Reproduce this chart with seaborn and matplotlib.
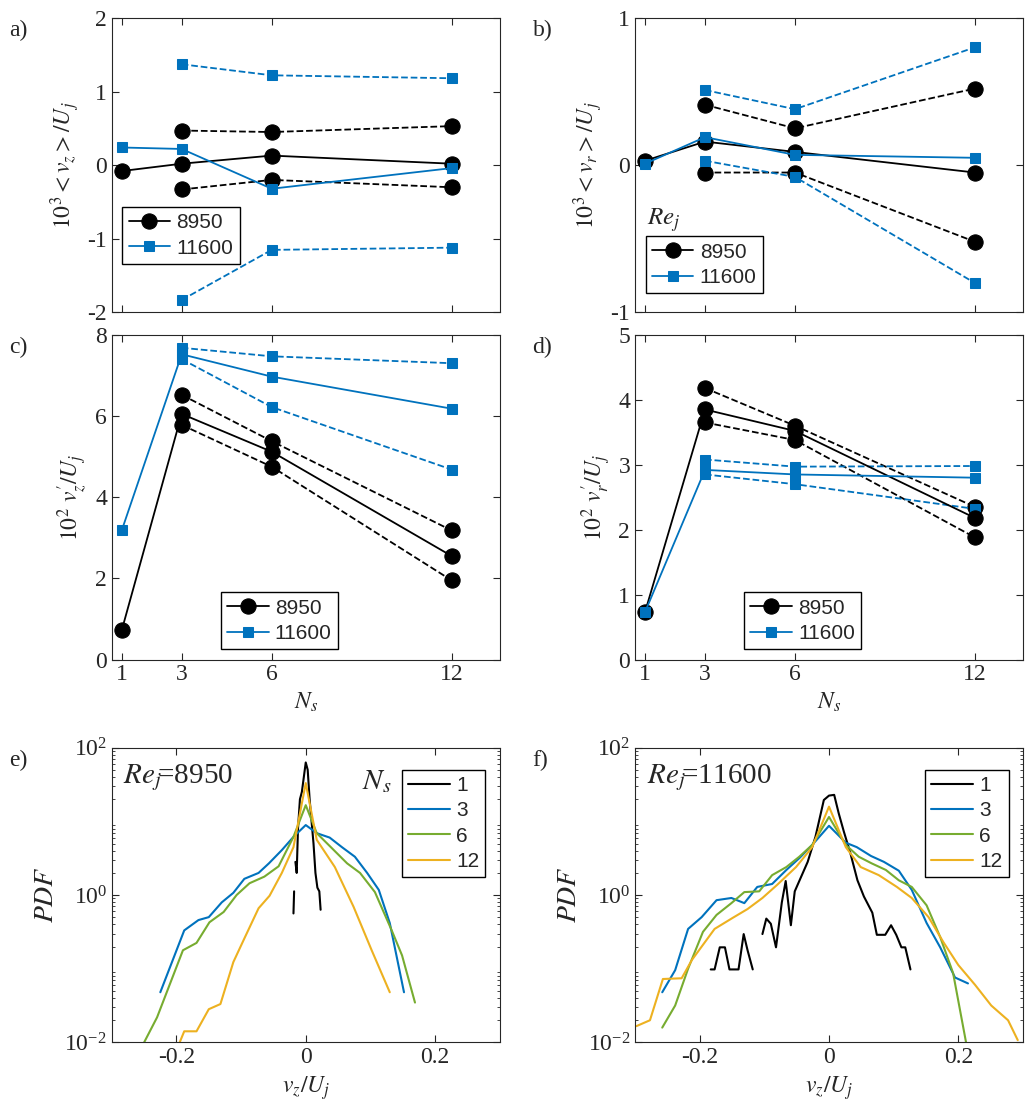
import numpy as np
import pandas as pd
import matplotlib
matplotlib.use("Agg")
import matplotlib.pyplot as plt
import seaborn as sns

sns.set_style("ticks")
plt.rcParams['font.family'] = ['Liberation Serif', 'DejaVu Serif']
plt.rcParams['mathtext.fontset'] = 'stix'
plt.rcParams['axes.unicode_minus'] = False

BLUE, GREEN, YELLOW = '#0072BD', '#77AC30', '#EDB120'
NS = [1, 3, 6, 12]
NS3 = [3, 6, 12]

# a) 10^3 <v_z>/U_j
a_k = [-0.08, 0.02, 0.13, 0.02]; a_k_hi = [0.47, 0.45, 0.53]; a_k_lo = [-0.33, -0.20, -0.30]
a_b = [0.24, 0.22, -0.32, -0.04]; a_b_hi = [1.37, 1.22, 1.18]; a_b_lo = [-1.83, -1.15, -1.12]
# b) 10^3 <v_r>/U_j
b_k = [0.03, 0.16, 0.09, -0.05]; b_k_hi = [0.41, 0.25, 0.52]; b_k_lo = [-0.05, -0.05, -0.52]
b_b = [0.01, 0.19, 0.07, 0.05]; b_b_hi = [0.51, 0.38, 0.80]; b_b_lo = [0.03, -0.08, -0.80]
# c) 10^2 v_z'/U_j
c_k = [0.72, 6.05, 5.12, 2.55]; c_k_hi = [6.52, 5.38, 3.18]; c_k_lo = [5.78, 4.75, 1.95]
c_b = [3.18, 7.52, 6.97, 6.18]; c_b_hi = [7.68, 7.47, 7.30]; c_b_lo = [7.40, 6.22, 4.68]
# d) 10^2 v_r'/U_j
d_k = [0.73, 3.85, 3.52, 2.18]; d_k_hi = [4.18, 3.60, 2.35]; d_k_lo = [3.65, 3.38, 1.88]
d_b = [0.73, 2.92, 2.85, 2.80]; d_b_hi = [3.08, 2.97, 2.98]; d_b_lo = [2.85, 2.70, 2.32]

# e) PDFs Re=8950 (x, log10 PDF)
e1_x = [-0.019, -0.018, np.nan, -0.016, -0.014, -0.012, -0.009, -0.006, -0.003, 0.0, 0.003, 0.006, 0.009, 0.012, 0.015, 0.018, 0.021, 0.023]
e1_y = [-0.25, 0.05, np.nan, 0.45, 0.30, 0.90, 1.30, 1.40, 1.60, 1.80, 1.70, 1.30, 1.00, 0.70, 0.30, 0.10, 0.05, -0.20]
e3_x = [-0.225, -0.188, -0.166, -0.15, -0.13, -0.112, -0.095, -0.073, -0.057, -0.037, -0.019, 0.0, 0.017, 0.037, 0.056, 0.076, 0.095, 0.113, 0.13, 0.152]
e3_y = [-1.32, -0.48, -0.34, -0.30, -0.10, 0.03, 0.22, 0.30, 0.43, 0.61, 0.79, 0.95, 0.84, 0.78, 0.65, 0.52, 0.30, 0.07, -0.38, -1.32]
e6_x = [-0.25, -0.23, -0.19, -0.169, -0.149, -0.127, -0.107, -0.087, -0.064, -0.042, -0.019, 0.0, 0.017, 0.04, 0.064, 0.084, 0.107, 0.133, 0.149, 0.169]
e6_y = [-2.0, -1.66, -0.75, -0.65, -0.37, -0.23, 0.0, 0.16, 0.25, 0.39, 0.79, 1.22, 0.84, 0.64, 0.43, 0.30, 0.04, -0.48, -0.82, -1.46]
e12_x = [-0.195, -0.188, -0.169, -0.15, -0.132, -0.112, -0.095, -0.073, -0.056, -0.037, -0.019, 0.0, 0.017, 0.045, 0.074, 0.102, 0.13]
e12_y = [-2.0, -1.85, -1.85, -1.55, -1.48, -0.91, -0.59, -0.18, -0.01, 0.30, 0.65, 1.52, 0.75, 0.38, -0.16, -0.75, -1.32]

# f) PDFs Re=11600
f1_x = [-0.183, -0.177, -0.169, -0.161, -0.154, -0.140, -0.132, -0.126, -0.118, np.nan, -0.103, -0.097, -0.090, -0.082, -0.073, -0.067, -0.059, -0.053, -0.044, -0.033, -0.021, -0.008, 0.0, 0.008, 0.015, 0.023, 0.033, 0.044, 0.054, 0.067, 0.074, 0.087, 0.096, 0.104, 0.112, 0.118, 0.126]
f1_y = [-1.01, -1.01, -0.71, -0.71, -1.01, -1.01, -0.53, -0.75, -1.01, np.nan, -0.53, -0.32, -0.39, -0.71, -0.10, 0.19, -0.41, 0.05, 0.23, 0.45, 0.79, 1.29, 1.35, 1.36, 1.11, 0.86, 0.57, 0.20, -0.02, -0.24, -0.54, -0.54, -0.41, -0.54, -0.71, -0.71, -1.01]
f3_x = [-0.258, -0.238, -0.218, -0.197, -0.174, -0.151, -0.131, -0.111, -0.088, -0.066, -0.046, -0.026, 0.0, 0.026, 0.043, 0.065, 0.085, 0.108, 0.128, 0.151, 0.172, 0.195, 0.215]
f3_y = [-1.32, -1.02, -0.46, -0.30, -0.07, -0.04, -0.11, 0.11, 0.15, 0.34, 0.50, 0.68, 0.94, 0.71, 0.65, 0.53, 0.45, 0.33, 0.07, -0.38, -0.71, -1.12, -1.20]
f6_x = [-0.258, -0.238, -0.218, -0.195, -0.174, -0.151, -0.131, -0.108, -0.088, -0.066, -0.046, -0.026, 0.0, 0.026, 0.046, 0.066, 0.088, 0.108, 0.128, 0.151, 0.172, 0.192, 0.212]
f6_y = [-1.80, -1.50, -1.00, -0.50, -0.27, -0.11, 0.04, 0.05, 0.27, 0.38, 0.52, 0.68, 1.06, 0.68, 0.52, 0.43, 0.34, 0.20, 0.11, -0.14, -0.57, -1.06, -2.0]
f12_x = [-0.298, -0.277, -0.257, -0.228, -0.212, -0.177, -0.149, -0.126, -0.103, -0.08, -0.051, -0.026, 0.0, 0.026, 0.049, 0.077, 0.105, 0.128, 0.154, 0.177, 0.2, 0.226, 0.251, 0.277, 0.292]
f12_y = [-1.78, -1.70, -1.14, -1.13, -0.88, -0.46, -0.31, -0.19, -0.04, 0.14, 0.38, 0.65, 1.20, 0.65, 0.38, 0.27, 0.11, -0.04, -0.30, -0.64, -0.95, -1.22, -1.50, -1.70, -1.97]

fig = plt.figure(figsize=(10.26, 11.16), dpi=100)
L, R, W = 0.109, 0.619, 0.378
ax_a = fig.add_axes([L, 0.720, W, 0.264])
ax_b = fig.add_axes([R, 0.720, W, 0.264])
ax_c = fig.add_axes([L, 0.409, W, 0.291])
ax_d = fig.add_axes([R, 0.409, W, 0.291])
ax_e = fig.add_axes([L, 0.066, W, 0.264])
ax_f = fig.add_axes([R, 0.066, W, 0.264])

FS = 17


def stat_panel(ax, k, khi, klo, b, bhi, blo):
    sns.lineplot(x=NS3, y=khi, ax=ax, color='k', ls='--', marker='o', ms=11, mec='k', lw=1.3)
    sns.lineplot(x=NS3, y=klo, ax=ax, color='k', ls='--', marker='o', ms=11, mec='k', lw=1.3)
    sns.lineplot(x=NS3, y=bhi, ax=ax, color=BLUE, ls='--', marker='s', ms=7, mec=BLUE, lw=1.3)
    sns.lineplot(x=NS3, y=blo, ax=ax, color=BLUE, ls='--', marker='s', ms=7, mec=BLUE, lw=1.3)
    sns.lineplot(x=NS, y=k, ax=ax, color='k', marker='o', ms=11, mec='k', lw=1.3, label='8950')
    sns.lineplot(x=NS, y=b, ax=ax, color=BLUE, marker='s', ms=7, mec=BLUE, lw=1.3, label='11600')
    ax.set_xlim(0.67, 13.6)
    ax.set_xticks(NS)
    ax.tick_params(direction='in', labelsize=FS, top=True, right=True, length=5)
    for s in ax.spines.values():
        s.set_linewidth(0.8)


stat_panel(ax_a, a_k, a_k_hi, a_k_lo, a_b, a_b_hi, a_b_lo)
stat_panel(ax_b, b_k, b_k_hi, b_k_lo, b_b, b_b_hi, b_b_lo)
stat_panel(ax_c, c_k, c_k_hi, c_k_lo, c_b, c_b_hi, c_b_lo)
stat_panel(ax_d, d_k, d_k_hi, d_k_lo, d_b, d_b_hi, d_b_lo)

ax_a.set_ylim(-2, 2); ax_a.set_yticks([-2, -1, 0, 1, 2])
ax_b.set_ylim(-1, 1); ax_b.set_yticks([-1, 0, 1])
ax_c.set_ylim(0, 8); ax_c.set_yticks([0, 2, 4, 6, 8])
ax_d.set_ylim(0, 5); ax_d.set_yticks([0, 1, 2, 3, 4, 5])
for ax in (ax_a, ax_b):
    ax.set_xticklabels([])
for ax in (ax_c, ax_d):
    ax.set_xlabel(r'$N_s$', fontsize=FS)

ax_a.set_ylabel(r'$10^3 <v_z>/U_j$', fontsize=FS)
ax_b.set_ylabel(r'$10^3 <v_r>/U_j$', fontsize=FS)
ax_c.set_ylabel(r"$10^2\ v_z'/U_j$", fontsize=FS)
ax_d.set_ylabel(r"$10^2\ v_r'/U_j$", fontsize=FS)

leg_kw = dict(fancybox=False, edgecolor='k', framealpha=1,
              prop={'family': 'Liberation Sans', 'size': 15}, handlelength=2.0,
              handletextpad=0.3, borderpad=0.3, labelspacing=0.3)
ax_a.legend(loc='lower left', bbox_to_anchor=(0.0, 0.13), **leg_kw)
ax_b.legend(loc='lower left', bbox_to_anchor=(0.0, 0.03), **leg_kw)
ax_b.text(0.03, 0.265, r'$Re_j$', transform=ax_b.transAxes, fontsize=FS + 1, va='bottom')
ax_c.legend(loc='lower right', bbox_to_anchor=(0.61, 0.0), **leg_kw)
ax_d.legend(loc='lower right', bbox_to_anchor=(0.61, 0.0), **leg_kw)


def pdf_panel(ax, series, title):
    for (x, y), c, lab in zip(series, ['k', BLUE, GREEN, YELLOW], ['1', '3', '6', '12']):
        df = pd.DataFrame({'x': x, 'p': 10.0 ** np.array(y)})
        ax.plot(df['x'], df['p'], color=c, lw=1.5, label=lab)
    ax.set_yscale('log')
    ax.set_ylim(1e-2, 1e2)
    ax.set_xlim(-0.3, 0.3)
    ax.set_xticks([-0.2, 0, 0.2])
    ax.set_xticklabels(['-0.2', '0', '0.2'])
    ax.set_yticks([1e-2, 1e0, 1e2])
    ax.tick_params(which='both', direction='in', labelsize=FS, top=True, right=True)
    ax.tick_params(which='major', length=5)
    ax.set_xlabel(r'$v_z/U_j$', fontsize=FS)
    ax.set_ylabel(r'$PDF$', fontsize=FS + 3)
    ax.text(0.03, 0.95, title, transform=ax.transAxes, fontsize=FS + 4, va='top')


pdf_panel(ax_e, [(e1_x, e1_y), (e3_x, e3_y), (e6_x, e6_y), (e12_x, e12_y)], r'$Re_j\!$=8950')
pdf_panel(ax_f, [(f1_x, f1_y), (f3_x, f3_y), (f6_x, f6_y), (f12_x, f12_y)], r'$Re_j\!$=11600')
ax_e.legend(loc='upper right', bbox_to_anchor=(0.99, 0.96), **leg_kw)
ax_f.legend(loc='upper right', bbox_to_anchor=(0.99, 0.96), **leg_kw)
ax_e.text(0.72, 0.93, r'$N_s$', transform=ax_e.transAxes, fontsize=FS + 4, va='top', ha='right')

for ax, lab in zip([ax_a, ax_b, ax_c, ax_d, ax_e, ax_f], 'abcdef'):
    bb = ax.get_position()
    fig.text(bb.x0 - 0.1, bb.y1 - 0.002, lab + ')', fontsize=FS, va='top')

fig.savefig('out.png', dpi=100)
